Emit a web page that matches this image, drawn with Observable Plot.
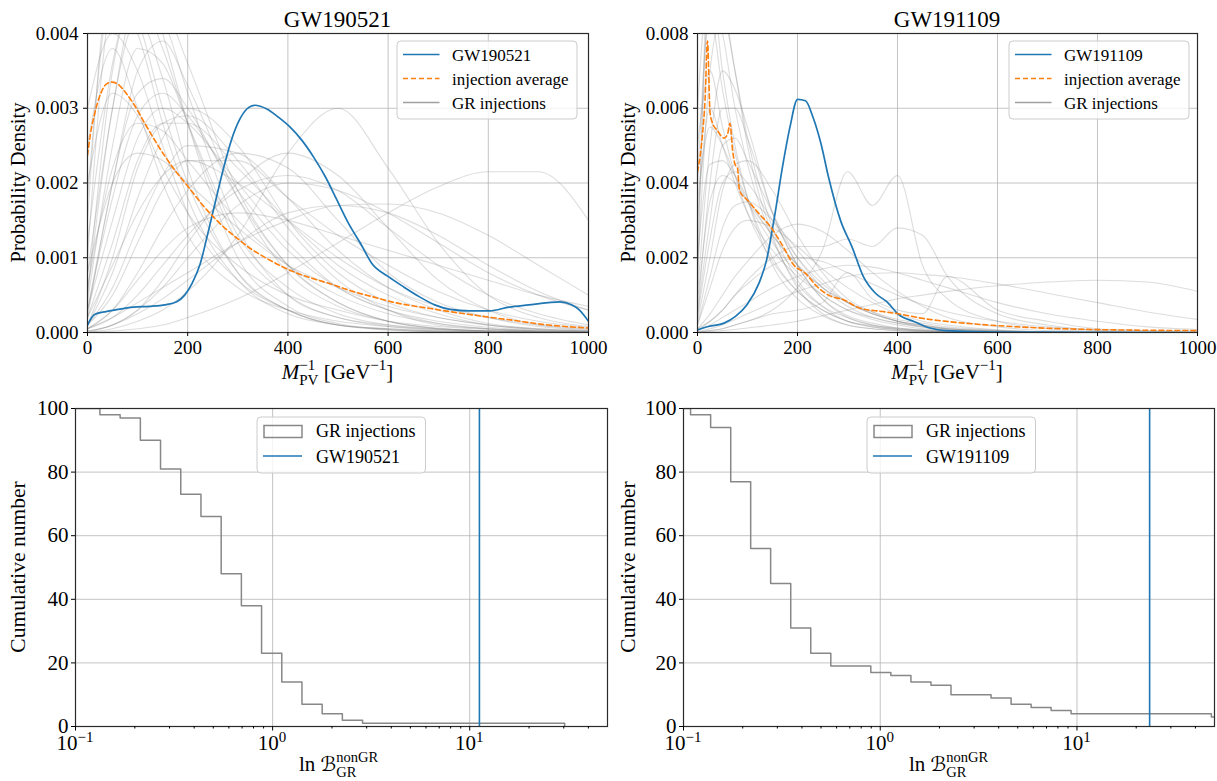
<!DOCTYPE html>
<html>
<head>
<meta charset="utf-8">
<script src="https://cdn.jsdelivr.net/npm/d3@7"></script>
<script src="https://cdn.jsdelivr.net/npm/@observablehq/plot@0.6"></script>
<style>
  html, body { margin: 0; padding: 0; background: #fff; }
  #wrap { position: relative; width: 1217px; height: 781px; overflow: hidden; background: #fff; }
  #wrap svg { position: absolute; }
</style>
</head>
<body>
<div id="wrap"></div>
<script>
// ================= DATA =================
// Top panels: probability density of M_PV^-1, values in units of 1e-3

// --- GW190521 panel ---
const mpvGridA = [0, 50, 100, 150, 200, 300, 400, 500, 600, 700, 800, 900, 1000];
const injectionsA = [
  [0.5, 3.5, 4.5, 3.8, 2.8, 1.2, 0.5, 0.2, 0.1, 0.05, 0.02, 0.01, 0],
  [1.5, 4.8, 4.2, 3.0, 2.0, 0.8, 0.3, 0.1, 0.05, 0.02, 0.01, 0, 0],
  [0.2, 2.0, 3.2, 3.4, 3.0, 1.8, 0.9, 0.4, 0.15, 0.05, 0.02, 0.01, 0],
  [0.1, 1.0, 2.2, 2.8, 2.9, 2.3, 1.4, 0.7, 0.3, 0.1, 0.05, 0.02, 0.01],
  [2.5, 3.8, 3.0, 2.0, 1.3, 0.6, 0.3, 0.15, 0.08, 0.04, 0.02, 0.01, 0],
  [0.8, 3.0, 4.5, 4.2, 3.2, 1.4, 0.5, 0.2, 0.08, 0.03, 0.01, 0, 0],
  [0.05, 0.3, 0.8, 1.4, 1.9, 2.4, 2.2, 1.5, 0.8, 0.4, 0.2, 0.08, 0.03],
  [0, 0.05, 0.15, 0.3, 0.55, 1.3, 2.4, 3.0, 2.2, 1.2, 0.5, 0.2, 0.08],
  [0, 0.02, 0.05, 0.1, 0.2, 0.45, 0.8, 1.2, 1.6, 1.95, 2.15, 2.15, 1.5],
  [0.05, 0.2, 0.4, 0.6, 0.8, 1.2, 1.5, 1.7, 1.72, 1.6, 1.3, 0.9, 0.5],
  [0.3, 1.5, 2.6, 3.0, 2.8, 2.0, 1.2, 0.6, 0.3, 0.12, 0.05, 0.02, 0.01],
  [3.0, 4.0, 3.5, 2.5, 1.6, 0.7, 0.3, 0.1, 0.05, 0.02, 0.01, 0, 0],
  [0.4, 2.5, 3.8, 3.6, 2.8, 1.3, 0.6, 0.25, 0.1, 0.04, 0.02, 0.01, 0],
  [0.1, 0.6, 1.4, 2.1, 2.5, 2.4, 1.8, 1.1, 0.6, 0.3, 0.12, 0.05, 0.02],
  [0.3, 1.8, 2.9, 3.2, 2.9, 1.9, 1.1, 0.6, 0.3, 0.15, 0.07, 0.03, 0.01],
  [0.05, 0.2, 0.5, 0.9, 1.3, 1.9, 2.1, 1.9, 1.4, 0.9, 0.5, 0.25, 0.1],
  [1.0, 4.5, 5.0, 4.0, 2.8, 1.0, 0.35, 0.12, 0.04, 0.01, 0, 0, 0],
  [0.6, 2.2, 2.8, 2.7, 2.3, 1.5, 0.9, 0.5, 0.25, 0.12, 0.05, 0.02, 0.01],
  [0.2, 1.2, 2.3, 2.8, 2.8, 2.2, 1.5, 0.9, 0.5, 0.25, 0.1, 0.04, 0.02],
  [0.02, 0.1, 0.3, 0.6, 1.0, 1.7, 2.0, 1.9, 1.6, 1.2, 0.8, 0.5, 0.3],
  [0.1, 0.5, 1.2, 1.9, 2.3, 2.3, 1.8, 1.3, 0.9, 0.55, 0.3, 0.15, 0.07],
  [2.0, 3.2, 2.9, 2.2, 1.6, 0.9, 0.5, 0.3, 0.15, 0.08, 0.04, 0.02, 0.01],
  [0.5, 3.0, 4.2, 3.4, 2.2, 0.8, 0.3, 0.1, 0.04, 0.01, 0, 0, 0],
  [0.1, 0.8, 1.8, 2.6, 3.0, 2.5, 1.5, 0.8, 0.4, 0.2, 0.1, 0.04, 0.02],
  [0.05, 0.3, 0.7, 1.1, 1.4, 1.6, 1.5, 1.3, 1.1, 0.9, 0.7, 0.5, 0.35],
  [0.8, 2.0, 2.4, 2.3, 2.0, 1.4, 0.9, 0.6, 0.35, 0.2, 0.1, 0.05, 0.02],
  [1.8, 4.5, 4.0, 2.8, 1.8, 0.7, 0.25, 0.1, 0.03, 0.01, 0, 0, 0],
  [0.02, 0.1, 0.3, 0.7, 1.2, 2.0, 2.4, 2.1, 1.4, 0.7, 0.3, 0.1, 0.04],
  [0.2, 0.9, 1.6, 2.1, 2.3, 2.0, 1.5, 1.0, 0.6, 0.35, 0.2, 0.1, 0.05],
  [0.3, 2.0, 3.5, 3.9, 3.3, 1.8, 0.8, 0.35, 0.15, 0.05, 0.02, 0.01, 0],
  [1.2, 3.6, 4.6, 4.4, 3.6, 1.9, 0.9, 0.4, 0.15, 0.06, 0.02, 0.01, 0],
  [0, 0.1, 0.25, 0.45, 0.7, 1.2, 1.6, 1.7, 1.6, 1.3, 0.9, 0.55, 0.3]
];
const gw190521X = [0, 14, 37, 61, 92, 123, 155, 178, 194, 209, 225, 240, 256, 272, 287, 303, 318, 334, 358, 381, 404, 428, 451, 475, 498, 521, 545, 568, 600, 631, 662, 693, 724, 763, 802, 842, 881, 920, 943, 966, 982, 1000];
const gw190521Y = [0.10, 0.24, 0.28, 0.31, 0.34, 0.35, 0.37, 0.41, 0.50, 0.66, 0.92, 1.32, 1.77, 2.21, 2.57, 2.84, 2.99, 3.04, 2.99, 2.88, 2.75, 2.57, 2.35, 2.08, 1.77, 1.46, 1.19, 0.92, 0.75, 0.61, 0.48, 0.37, 0.31, 0.29, 0.29, 0.34, 0.37, 0.40, 0.41, 0.37, 0.30, 0.15];
const averageAX = [0, 6, 14, 26, 37, 49, 61, 76, 92, 115, 139, 170, 201, 233, 264, 295, 326, 358, 389, 420, 451, 490, 529, 568, 607, 685, 763, 842, 920, 1000];
const averageAY = [2.37, 2.66, 2.92, 3.19, 3.32, 3.35, 3.32, 3.21, 3.06, 2.79, 2.52, 2.21, 1.95, 1.68, 1.46, 1.28, 1.12, 0.99, 0.88, 0.79, 0.72, 0.64, 0.55, 0.48, 0.41, 0.32, 0.24, 0.17, 0.10, 0.06];

// --- GW191109 panel ---
const mpvGridB = [0, 25, 50, 75, 100, 150, 200, 250, 300, 350, 400, 450, 500, 600, 700, 800, 900, 1000];
const injectionsB = [
  [2.0, 9.0, 8.0, 6.0, 4.5, 2.5, 1.3, 0.7, 0.4, 0.2, 0.12, 0.07, 0.04, 0.01, 0, 0, 0, 0],
  [4.0, 8.5, 6.5, 4.8, 3.6, 2.0, 1.1, 0.6, 0.3, 0.18, 0.1, 0.06, 0.03, 0.01, 0, 0, 0, 0],
  [1.0, 5.0, 7.0, 6.5, 5.5, 3.2, 1.8, 0.9, 0.45, 0.25, 0.12, 0.06, 0.03, 0.01, 0, 0, 0, 0],
  [0.5, 3.0, 5.0, 5.2, 4.6, 3.2, 2.0, 1.2, 0.7, 0.4, 0.25, 0.14, 0.08, 0.02, 0, 0, 0, 0],
  [3.0, 6.0, 5.0, 4.0, 3.2, 2.2, 1.5, 1.0, 0.6, 0.4, 0.25, 0.16, 0.1, 0.04, 0.01, 0, 0, 0],
  [0.2, 1.5, 2.8, 3.4, 3.5, 3.0, 2.2, 1.4, 0.8, 0.5, 0.3, 0.18, 0.1, 0.03, 0.01, 0, 0, 0],
  [0.1, 0.5, 1.0, 1.5, 1.9, 2.6, 2.9, 2.7, 2.2, 1.6, 1.1, 0.7, 0.4, 0.15, 0.05, 0.02, 0, 0],
  [1.0, 10.0, 9.0, 7.0, 5.0, 2.6, 1.2, 0.5, 0.2, 0.1, 0.05, 0.02, 0.01, 0, 0, 0, 0, 0],
  [0.3, 2.0, 3.8, 4.5, 4.6, 3.8, 2.6, 1.6, 0.9, 0.55, 0.3, 0.15, 0.08, 0.02, 0, 0, 0, 0],
  [2.0, 4.5, 4.6, 4.2, 3.6, 2.6, 1.8, 1.2, 0.8, 0.55, 0.35, 0.25, 0.15, 0.06, 0.02, 0.01, 0, 0],
  [0.05, 0.2, 0.4, 0.6, 0.8, 1.2, 1.5, 1.7, 1.8, 1.75, 1.6, 1.4, 1.2, 0.8, 0.5, 0.3, 0.15, 0.08],
  [0.02, 0.1, 0.2, 0.35, 0.5, 0.8, 1.1, 1.3, 1.5, 1.58, 1.6, 1.55, 1.5, 1.3, 1.05, 0.8, 0.55, 0.35],
  [0, 0.02, 0.05, 0.08, 0.12, 0.2, 0.3, 0.45, 0.6, 0.75, 0.9, 1.0, 1.1, 1.25, 1.35, 1.4, 1.35, 1.1],
  [0.5, 4.0, 6.0, 6.0, 5.2, 3.2, 1.8, 0.9, 0.4, 0.2, 0.1, 0.04, 0.02, 0, 0, 0, 0, 0],
  [5.0, 7.0, 5.5, 4.2, 3.2, 1.9, 1.1, 0.6, 0.3, 0.15, 0.08, 0.04, 0.02, 0, 0, 0, 0, 0],
  [0.2, 1.2, 2.2, 2.8, 3.0, 2.8, 2.3, 1.7, 1.2, 0.8, 0.5, 0.3, 0.2, 0.07, 0.01, 0, 0, 0],
  [1.5, 7.0, 8.5, 7.0, 5.2, 2.8, 1.4, 0.7, 0.3, 0.15, 0.08, 0.04, 0.02, 0, 0, 0, 0, 0],
  [0, 0.05, 0.1, 0.2, 0.3, 0.6, 1.2, 2.2, 4.3, 3.4, 4.2, 1.8, 0.9, 0.3, 0.1, 0.03, 0, 0],
  [0.1, 0.3, 0.6, 1.0, 1.4, 2.0, 2.3, 2.3, 2.5, 2.3, 2.8, 2.6, 1.5, 0.5, 0.2, 0.05, 0, 0],
  [6.0, 9.5, 7.0, 5.0, 3.6, 1.8, 0.9, 0.45, 0.2, 0.1, 0.05, 0.02, 0.01, 0, 0, 0, 0, 0],
  [0.8, 3.5, 4.2, 4.0, 3.5, 2.6, 1.8, 1.2, 0.8, 0.5, 0.3, 0.2, 0.12, 0.05, 0.02, 0, 0, 0],
  [0.05, 0.3, 0.6, 1.0, 1.3, 1.8, 2.0, 1.9, 1.6, 1.3, 1.0, 0.75, 0.55, 0.3, 0.15, 0.07, 0.03, 0.01],
  [0.01, 0.05, 0.1, 0.2, 0.3, 0.5, 0.6, 0.8, 1.6, 0.9, 0.6, 0.5, 1.5, 0.6, 0.3, 0.1, 0.05, 0],
  [3.5, 5.5, 5.0, 4.2, 3.5, 2.4, 1.6, 1.0, 0.6, 0.35, 0.2, 0.1, 0.05, 0.02, 0, 0, 0, 0],
  [0.4, 2.5, 4.0, 4.3, 4.0, 3.0, 2.0, 1.3, 0.8, 0.5, 0.3, 0.2, 0.1, 0.04, 0.01, 0, 0, 0]
];
const gw191109X = [0, 22, 53, 76, 99, 123, 138, 154, 170, 185, 200, 216, 231, 247, 262, 286, 309, 332, 356, 379, 403, 434, 465, 496, 605, 1000];
const gw191109Y = [0.07, 0.16, 0.25, 0.43, 0.74, 1.32, 1.93, 3.10, 4.43, 5.50, 6.24, 6.20, 5.76, 5.05, 4.16, 3.00, 2.29, 1.49, 1.05, 0.82, 0.47, 0.29, 0.12, 0.05, 0.01, 0];
const averageBX = [0, 5, 10, 15, 20, 25, 30, 40, 53, 60, 65, 70, 75, 80, 84, 100, 123, 146, 169, 193, 216, 239, 262, 293, 325, 371, 402, 449, 503, 604, 759, 1000];
const averageBY = [4.3, 4.7, 5.3, 6.2, 7.8, 5.9, 5.6, 5.4, 5.2, 5.3, 5.6, 4.9, 4.5, 4.4, 3.8, 3.54, 3.18, 2.83, 2.35, 1.8, 1.58, 1.23, 1.0, 0.87, 0.65, 0.56, 0.5, 0.38, 0.29, 0.18, 0.09, 0.05];

const mpvTicks = [0, 200, 400, 600, 800, 1000];
const densityTicksA = [0, 1, 2, 3, 4];   // x 1e-3
const densityTicksB = [0, 2, 4, 6, 8];   // x 1e-3

// Bottom panels: reverse cumulative counts of GR injections vs ln B
const binEdgesA = [0.0831, 0.1051, 0.1330, 0.1684, 0.2133, 0.2700, 0.3420, 0.4330, 0.5483, 0.6943, 0.8790, 1.113, 1.409, 1.784, 2.259, 2.861, 3.622, 4.587, 5.808, 7.354, 9.311, 11.79, 14.93, 18.90, 23.93, 30.30];
const cumCountsA = [100, 100, 98, 97, 90, 81, 73, 66, 48, 38, 23, 14, 7, 4, 2, 1, 1, 1, 1, 1, 1, 1, 1, 1, 1];
const lnBgw190521 = 11.2;

const binEdgesB = [0.0859, 0.1086, 0.1374, 0.1738, 0.2195, 0.2773, 0.3508, 0.4434, 0.5607, 0.7087, 0.8954, 1.132, 1.432, 1.811, 2.289, 2.893, 3.658, 4.624, 5.846, 7.387, 9.333, 11.80, 14.93, 18.88, 23.85, 30.14, 38.11, 48.19, 60.95];
const cumCountsB = [100, 98, 94, 77, 56, 45, 31, 23, 19, 19, 17, 16, 14, 13, 10, 10, 9, 7, 6, 5, 4, 4, 4, 4, 4, 4, 4, 3];
const lnBgw191109 = 23.4;

const countTicks = [0, 20, 40, 60, 80, 100];
const lnBMajor = [0.1, 1, 10];
const lnBMajorExp = ["\u22121", "0", "1"];
const lnBMinor = [0.2, 0.3, 0.4, 0.5, 0.6, 0.7, 0.8, 0.9, 2, 3, 4, 5, 6, 7, 8, 9, 20, 30, 40];

// ================= STYLE =================
const FONT = "'Liberation Serif', 'Times New Roman', serif";
const BLUE = "#1f77b4", ORANGE = "#ff7f0e";
const GRID = {stroke: "#b0b0b0", strokeOpacity: 0.75, strokeWidth: 1};
const wrap = document.getElementById("wrap");

function place(svg, left, top) {
  svg.style.position = "absolute";
  svg.style.left = left + "px";
  svg.style.top = top + "px";
  wrap.appendChild(svg);
  return d3.select(svg);
}

function legendFrame(g, x, y, w, h) {
  g.append("rect").attr("x", x).attr("y", y).attr("width", w).attr("height", h).attr("rx", 4)
    .attr("fill", "white").attr("fill-opacity", 0.8).attr("stroke", "#cccccc").attr("stroke-width", 1);
}

function topPanel(o) {
  const W = o.W, H = 390;
  const rows = [];
  o.inj.forEach((ys, i) => ys.forEach((y, j) => rows.push({x: o.grid[j], y, id: i})));
  const blue = o.bx.map((x, i) => ({x, y: o.by[i]}));
  const avg = o.ax.map((x, i) => ({x, y: o.ay[i]}));
  const yMax = o.yTicks[o.yTicks.length - 1];
  const svg = Plot.plot({
    width: W, height: H,
    marginLeft: o.ml, marginRight: W - o.pr, marginTop: 33, marginBottom: 58,
    style: {fontFamily: FONT, fontSize: "19px", background: "transparent", color: "#000", overflow: "visible"},
    x: {domain: [0, 1000], label: null},
    y: {domain: [0, yMax], label: null},
    marks: [
      Plot.gridX(mpvTicks, GRID),
      Plot.gridY(o.yTicks, GRID),
      Plot.line(rows, {x: "x", y: "y", z: "id", stroke: "#808080", strokeOpacity: 0.27, strokeWidth: 1.1, curve: "monotone-x", clip: true}),
      Plot.line(blue, {x: "x", y: "y", stroke: BLUE, strokeWidth: 1.7, curve: "monotone-x", clip: true}),
      Plot.line(avg, {x: "x", y: "y", stroke: ORANGE, strokeWidth: 1.6, strokeDasharray: "5,3", curve: "monotone-x", clip: true}),
      Plot.frame({stroke: "#2a2a2a", strokeWidth: 1.2}),
      Plot.axisX(mpvTicks, {tickSize: 4, tickPadding: 4, label: null, tickFormat: d => String(d)}),
      Plot.axisY(o.yTicks, {tickSize: 4, tickPadding: 5, label: null, tickFormat: d => (d / 1000).toFixed(3)})
    ]
  });
  const g = place(svg, o.left, 0);
  const cx = (o.ml + o.pr) / 2;
  // title
  g.append("text").attr("x", cx).attr("y", 27).attr("text-anchor", "middle")
    .attr("font-size", 23).attr("fill", "#000").text(o.title);
  // y label
  g.append("text").attr("transform", `translate(25,${(33 + 332) / 2}) rotate(-90)`)
    .attr("text-anchor", "middle").attr("font-size", 20.5).attr("fill", "#000").text("Probability Density");
  // x label  M_PV^-1 [GeV^-1]
  const xl = g.append("text").attr("x", cx).attr("y", 379).attr("text-anchor", "middle")
    .attr("font-size", 21).attr("fill", "#000");
  xl.append("tspan").attr("font-style", "italic").text("M");
  xl.append("tspan").attr("font-size", 15).attr("dy", -9).text("\u22121");
  xl.append("tspan").attr("font-size", 15).attr("dx", "-1.064em").attr("dy", 15).text("PV");
  xl.append("tspan").attr("dy", -6).text(" [GeV");
  xl.append("tspan").attr("font-size", 15).attr("dy", -9).text("\u22121");
  xl.append("tspan").attr("dy", 9).text("]");
  // legend
  const bx = o.legendX, by = 41;
  legendFrame(g, bx, by, 180, 78);
  const entries = [
    {label: o.title, stroke: BLUE, dash: null, op: 1},
    {label: "injection average", stroke: ORANGE, dash: "5,3", op: 1},
    {label: "GR injections", stroke: "#808080", dash: null, op: 0.75}
  ];
  entries.forEach((e, i) => {
    const yy = by + 13.5 + i * 24;
    const ln = g.append("line").attr("x1", bx + 6).attr("x2", bx + 42.5).attr("y1", yy).attr("y2", yy)
      .attr("stroke", e.stroke).attr("stroke-width", 1.7).attr("stroke-opacity", e.op);
    if (e.dash) ln.attr("stroke-dasharray", e.dash);
    g.append("text").attr("x", bx + 55).attr("y", yy + 6).attr("text-anchor", "start")
      .attr("font-size", 17).attr("fill", "#000").text(e.label);
  });
}

function bottomPanel(o) {
  const W = o.W, H = 391;
  const steps = o.edges.slice(0, -1).map((e, i) => ({x: e, y: o.counts[i]}));
  steps.push({x: o.edges[o.edges.length - 1], y: 0});
  const svg = Plot.plot({
    width: W, height: H,
    marginLeft: o.ml, marginRight: W - o.pr, marginTop: 18, marginBottom: 55,
    style: {fontFamily: FONT, fontSize: "21px", background: "transparent", color: "#000", overflow: "visible"},
    x: {type: "log", domain: [0.1, 50], label: null},
    y: {domain: [0, 100], label: null},
    marks: [
      Plot.gridX(lnBMajor, GRID),
      Plot.gridY(countTicks, GRID),
      Plot.line(steps, {x: "x", y: "y", curve: "step-after", stroke: "#888888", strokeWidth: 1.5, clip: true}),
      Plot.ruleX([o.event], {stroke: BLUE, strokeWidth: 1.6}),
      Plot.frame({stroke: "#2a2a2a", strokeWidth: 1.2}),
      Plot.axisX(lnBMinor, {tickSize: 2.5, label: null, tickFormat: () => ""}),
      Plot.axisX(lnBMajor, {tickSize: 4.5, label: null, tickFormat: () => ""}),
      Plot.axisY(countTicks, {tickSize: 4, tickPadding: 3, label: null, tickFormat: d => String(d)})
    ]
  });
  const g = place(svg, o.left, 390);
  const xs = svg.scale("x");
  // major tick labels 10^k
  lnBMajor.forEach((v, i) => {
    const t = g.append("text").attr("x", xs.apply(v)).attr("y", 360).attr("text-anchor", "middle")
      .attr("font-size", 21).attr("fill", "#000");
    t.append("tspan").text("10");
    t.append("tspan").attr("font-size", 15).attr("dy", -8).text(lnBMajorExp[i]);
  });
  // y label
  g.append("text").attr("transform", `translate(25,${(18 + 336) / 2}) rotate(-90)`)
    .attr("text-anchor", "middle").attr("font-size", 21.5).attr("fill", "#000").text("Cumulative number");
  // x label  ln B^{nonGR}_{GR}
  const xl = g.append("text").attr("x", 299).attr("y", 381).attr("text-anchor", "start")
    .attr("font-size", 21).attr("fill", "#000");
  xl.append("tspan").text("ln ");
  xl.append("tspan").attr("font-family", "'DejaVu Serif', 'DejaVu Sans', serif").attr("font-style", "italic").attr("font-size", 20).text("\u212C");
  xl.append("tspan").attr("font-size", 14.5).attr("dy", -9).text("nonGR");
  xl.append("tspan").attr("font-size", 14.5).attr("dx", "-2.889em").attr("dy", 15).text("GR");
  // legend
  const bx = 257, by = 27;
  legendFrame(g, bx, by, 168.5, 56);
  g.append("rect").attr("x", bx + 7).attr("y", by + 8.5).attr("width", 38).attr("height", 12)
    .attr("fill", "none").attr("stroke", "#888888").attr("stroke-width", 1.5);
  g.append("text").attr("x", bx + 59).attr("y", by + 20).attr("text-anchor", "start")
    .attr("font-size", 18).attr("fill", "#000").text("GR injections");
  g.append("line").attr("x1", bx + 6).attr("x2", bx + 45).attr("y1", by + 39).attr("y2", by + 39)
    .attr("stroke", BLUE).attr("stroke-width", 1.7);
  g.append("text").attr("x", bx + 59).attr("y", by + 46).attr("text-anchor", "start")
    .attr("font-size", 18).attr("fill", "#000").text(o.name);
}

topPanel({left: 0, W: 605, ml: 87, pr: 588, title: "GW190521", grid: mpvGridA, inj: injectionsA,
  bx: gw190521X, by: gw190521Y, ax: averageAX, ay: averageAY, yTicks: densityTicksA, legendX: 397});
topPanel({left: 610, W: 607, ml: 87, pr: 587, title: "GW191109", grid: mpvGridB, inj: injectionsB,
  bx: gw191109X, by: gw191109Y, ax: averageBX, ay: averageBY, yTicks: densityTicksB, legendX: 399});
bottomPanel({left: 0, W: 610, ml: 75, pr: 607, edges: binEdgesA, counts: cumCountsA, event: lnBgw190521, name: "GW190521"});
bottomPanel({left: 610, W: 607, ml: 73, pr: 604, edges: binEdgesB, counts: cumCountsB, event: lnBgw191109, name: "GW191109"});
</script>
</body>
</html>
